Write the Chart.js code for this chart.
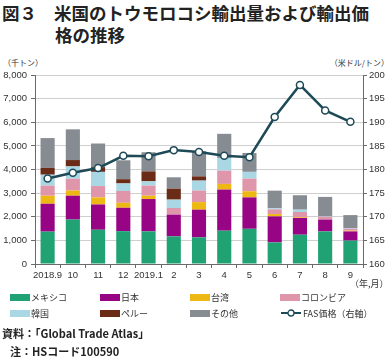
<!DOCTYPE html>
<html lang="ja">
<head>
<meta charset="utf-8">
<title>米国のトウモロコシ輸出量および輸出価格の推移</title>
<script src="https://cdn.jsdelivr.net/npm/chart.js@4/dist/chart.umd.min.js"></script>
<style>
  html, body { margin: 0; padding: 0; background: #fff; }
  body { width: 391px; height: 359px; position: relative; overflow: hidden;
         font-family: "Noto Sans CJK JP", "Liberation Sans", sans-serif; color: #222; }
  .abs { position: absolute; white-space: nowrap; }
  #title1, #title2 { font-size: 17.5px; font-weight: 700; line-height: 1; letter-spacing: 0; }
  #title1 { left: 2px; top: 4px; }
  #title2 { left: 55px; top: 26px; }
  .unit { font-size: 8px; top: 57px; color: #333; }
  #chartWrap { position: absolute; left: 0; top: 65px; width: 391px; height: 225px; }
  #legend { position: absolute; left: 0; top: 290px; width: 391px; }
  .item { position: absolute; height: 14px; display: flex; align-items: center; font-size: 9px; color: #333; }
  .sw { width: 20px; height: 7px; margin-right: 1px; }
  .foot { font-size: 11px; font-weight: 700; color: #222; }
</style>
</head>
<body>
<div id="title1" class="abs">図３<span style="display:inline-block;width:17px"></span>米国のトウモロコシ輸出量および輸出価</div>
<div id="title2" class="abs">格の推移</div>
<div class="abs unit" style="left:3px">（千トン）</div>
<div class="abs unit" style="right:2px">（米ドル/トン）</div>
<div id="chartWrap"><canvas id="chart" width="391" height="225"></canvas></div>
<div class="abs" style="left:350px; top:277px; font-size:9px; color:#333">（年,月）</div>
<div id="legend"></div>
<div class="abs foot" style="left:2px; top:325px">資料：「Global Trade Atlas」</div>
<div class="abs foot" style="left:10px; top:343px">注：HSコード100590</div>

<script>
// 月ラベル
const months = ['2018.9', '10', '11', '12', '2019.1', '2', '3', '4', '5', '6', '7', '8', '9'];

// 輸出量（千トン）
const mexico   = [1370, 1880, 1450, 1390, 1380, 1170, 1130, 1410, 1490, 915, 1240, 1380, 990];
const japan    = [1180, 1010, 1070,  990, 1370,  920, 1170, 1740, 1330, 1100, 710, 500, 390];
const taiwan   = [ 340,  220,  300,  210,  140,    0,  320,  240,  260, 100,  30,   0,  30];
const colombia = [ 430,  500,  480,  500,  430,  280,  490,  560,  535, 200, 220, 120,  80];
const korea    = [ 460,  520,  600,  320,  180,  355,  420,  540,  285,  50, 100,  20,  20];
const peru     = [ 290,  270,  200,  180,  420,  465,  180,    0,    0,   0,   0,   0,   0];
const others   = [1260, 1300, 1000,  800,  810,  480, 1070, 1020,  800, 740, 610, 820, 560];

// FAS価格（米ドル/トン）
const fasPrice = [178.1, 179.3, 180.3, 182.9, 182.8, 184.1, 183.7, 182.9, 182.6, 191.1, 197.9, 192.5, 190.1];

const leftTicks = [0, 1000, 2000, 3000, 4000, 5000, 6000, 7000, 8000];
const rightTicks = [160, 165, 170, 175, 180, 185, 190, 195, 200];

const series = [
    { label: 'メキシコ', data: mexico, color: '#21a274' },
    { label: '日本', data: japan, color: '#980584' },
    { label: '台湾', data: taiwan, color: '#eeb814' },
    { label: 'コロンビア', data: colombia, color: '#e096aa' },
    { label: '韓国', data: korea, color: '#aad7e4' },
    { label: 'ペルー', data: peru, color: '#6a2c16' },
    { label: 'その他', data: others, color: '#878c93' }
];
const lineLabel = 'FAS価格（右軸）';
const lineColor = '#1e4a58';

const tickFont = { family: '"Liberation Sans", Arial, sans-serif', size: 9.5 };
const axisColor = '#6a6a6a';

const datasets = series.map(s => ({
    type: 'bar',
    label: s.label,
    data: s.data,
    backgroundColor: s.color,
    yAxisID: 'y',
    order: 1,
    barPercentage: 0.56,
    categoryPercentage: 1
}));
datasets.push({
    type: 'line',
    label: lineLabel,
    data: fasPrice,
    yAxisID: 'y1',
    order: 0,
    borderColor: lineColor,
    borderWidth: 2.5,
    pointRadius: 3.5,
    pointBorderWidth: 1.5,
    pointBackgroundColor: '#fff',
    pointBorderColor: lineColor,
    tension: 0
});

new Chart(document.getElementById('chart'), {
    data: { labels: months, datasets },
    options: {
        responsive: false,
        animation: false,
        layout: { padding: { top: 10, left: 0, right: 0, bottom: 0 } },
        plugins: { legend: { display: false }, tooltip: { enabled: false } },
        scales: {
            x: {
                stacked: true,
                grid: { drawOnChartArea: false, drawTicks: true, tickLength: 4, tickColor: axisColor, offset: true },
                border: { color: axisColor, width: 1 },
                ticks: { font: tickFont, color: '#333', padding: 2, maxRotation: 0, autoSkip: false },
                afterFit: s => { s.height = 26; }
            },
            y: {
                stacked: true,
                position: 'left',
                min: 0, max: 8000,
                afterBuildTicks: s => { s.ticks = leftTicks.map(v => ({ value: v })); },
                grid: { color: '#cfcfcf', lineWidth: 1, tickLength: 4, tickColor: axisColor },
                border: { color: axisColor, width: 1 },
                ticks: {
                    font: tickFont, color: '#333', padding: 4,
                    callback: v => v.toLocaleString('en-US')
                },
                afterFit: s => { s.width = 35; }
            },
            y1: {
                position: 'right',
                min: 160, max: 200,
                afterBuildTicks: s => { s.ticks = rightTicks.map(v => ({ value: v })); },
                grid: { drawOnChartArea: false, tickLength: 4, tickColor: axisColor },
                border: { color: axisColor, width: 1 },
                ticks: { font: tickFont, color: '#333', padding: 2 },
                afterFit: s => { s.width = 28; }
            }
        }
    }
});

// 凡例
const legend = document.getElementById('legend');
const cols = [10, 100, 190, 280];
const items = series.map(s => ({ label: s.label, color: s.color, isLine: false }));
items.push({ label: lineLabel, color: lineColor, isLine: true });
items.forEach((it, i) => {
    const el = document.createElement('div');
    el.className = 'item';
    el.style.left = cols[i % 4] + 'px';
    el.style.top = (i < 4 ? 0 : 16) + 'px';
    if (it.isLine) {
        el.innerHTML = `<svg width="22" height="10" style="margin-right:1px"><line x1="1" y1="5" x2="21" y2="5" stroke="${it.color}" stroke-width="2"/><circle cx="11" cy="5" r="3" fill="#fff" stroke="${it.color}" stroke-width="1.3"/></svg>${it.label}`;
    } else {
        el.innerHTML = `<span class="sw" style="background:${it.color}"></span>${it.label}`;
    }
    legend.appendChild(el);
});
</script>
</body>
</html>
